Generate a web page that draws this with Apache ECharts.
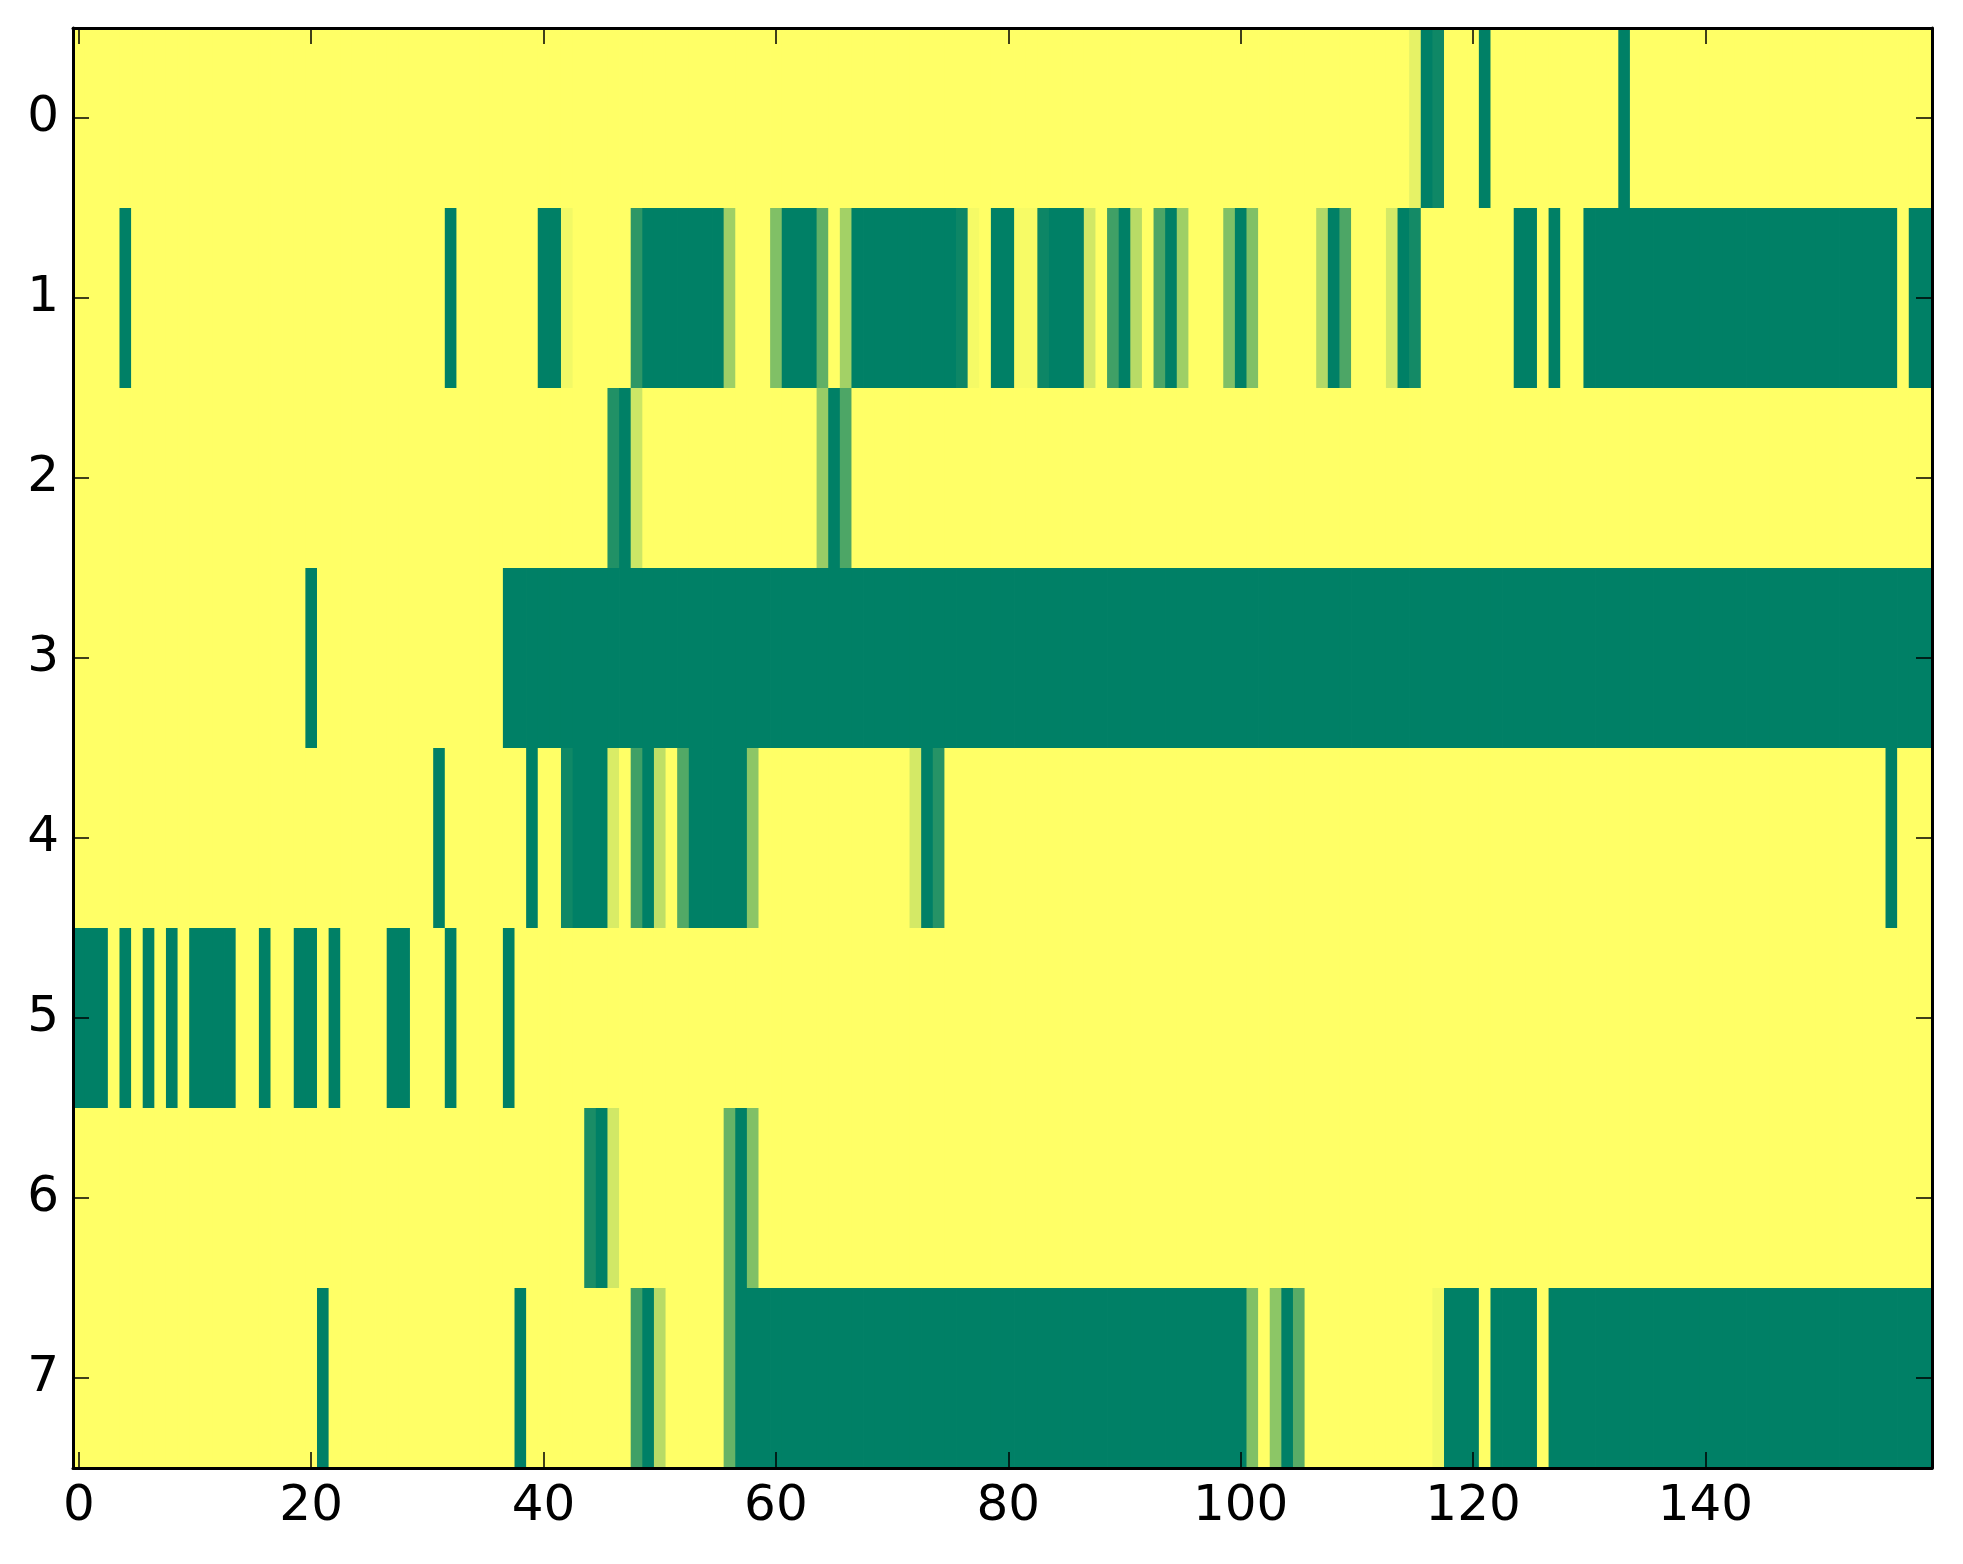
<!DOCTYPE html>
<html>
<head>
<meta charset="utf-8">
<script src="https://cdn.jsdelivr.net/npm/echarts@6/dist/echarts.min.js"></script>
<style>
html,body{margin:0;padding:0;background:#fff;}
#chart{width:1963px;height:1564px;}
</style>
</head>
<body>
<div id="chart"></div>
<script>
// column categories 0..159 and row categories 0..7
const columns = [];
for (let i = 0; i < 160; i++) columns.push(String(i));
const rowLabels = ['0','1','2','3','4','5','6','7'];
const xTickLabels = ['0','20','40','60','80','100','120','140'];

const row0 = [
1,1,1,1,1,1,1,1,1,1, 1,1,1,1,1,1,1,1,1,1, 1,1,1,1,1,1,1,1,1,1, 1,1,1,1,1,1,1,1,1,1,
1,1,1,1,1,1,1,1,1,1, 1,1,1,1,1,1,1,1,1,1, 1,1,1,1,1,1,1,1,1,1, 1,1,1,1,1,1,1,1,1,1,
1,1,1,1,1,1,1,1,1,1, 1,1,1,1,1,1,1,1,1,1, 1,1,1,1,1,1,1,1,1,1, 1,1,1,1,1,0.9,0,0.06,1,1,
1,0,1,1,1,1,1,1,1,1, 1,1,1,0,1,1,1,1,1,1, 1,1,1,1,1,1,1,1,1,1, 1,1,1,1,1,1,1,1,1,1
];
const row1 = [
1,1,1,1,0,1,1,1,1,1, 1,1,1,1,1,1,1,1,1,1, 1,1,1,1,1,1,1,1,1,1, 1,1,0,1,1,1,1,1,1,1,
0,0,0.95,1,1,1,1,1,0.18,0, 0,0,0,0,0,0,0.62,1,1,1, 0.5,0,0,0,0.38,1,0.64,0,0,0, 0,0,0,0,0,0,0.05,0.96,1,0,
0,0.97,0.97,0.05,0,0,0,0.82,1,0.25, 0,0.72,1,0.3,0,0.62,1,1,1,0.5, 0,0.5,1,1,1,1,1,0.7,0,0.3, 1,1,1,0.83,0,0.08,1,1,1,1,
1,1,1,1,0,0,1,0,1,1, 0,0,0,0,0,0,0,0,0,0, 0,0,0,0,0,0,0,0,0,0, 0,0,0,0,0,0,0,1,0,0
];
const row2 = [
1,1,1,1,1,1,1,1,1,1, 1,1,1,1,1,1,1,1,1,1, 1,1,1,1,1,1,1,1,1,1, 1,1,1,1,1,1,1,1,1,1,
1,1,1,1,1,1,0.13,0,0.8,1, 1,1,1,1,1,1,1,1,1,1, 1,1,1,1,0.6,0,0.3,1,1,1, 1,1,1,1,1,1,1,1,1,1,
1,1,1,1,1,1,1,1,1,1, 1,1,1,1,1,1,1,1,1,1, 1,1,1,1,1,1,1,1,1,1, 1,1,1,1,1,1,1,1,1,1,
1,1,1,1,1,1,1,1,1,1, 1,1,1,1,1,1,1,1,1,1, 1,1,1,1,1,1,1,1,1,1, 1,1,1,1,1,1,1,1,1,1
];
const row3 = [
1,1,1,1,1,1,1,1,1,1, 1,1,1,1,1,1,1,1,1,1, 0,1,1,1,1,1,1,1,1,1, 1,1,1,1,1,1,1,0,0,0,
0,0,0,0,0,0,0,0,0,0, 0,0,0,0,0,0,0,0,0,0, 0,0,0,0,0,0,0,0,0,0, 0,0,0,0,0,0,0,0,0,0,
0,0,0,0,0,0,0,0,0,0, 0,0,0,0,0,0,0,0,0,0, 0,0,0,0,0,0,0,0,0,0, 0,0,0,0,0,0,0,0,0,0,
0,0,0,0,0,0,0,0,0,0, 0,0,0,0,0,0,0,0,0,0, 0,0,0,0,0,0,0,0,0,0, 0,0,0,0,0,0,0,0,0,0
];
const row4 = [
1,1,1,1,1,1,1,1,1,1, 1,1,1,1,1,1,1,1,1,1, 1,1,1,1,1,1,1,1,1,1, 1,0,1,1,1,1,1,1,1,0,
1,1,0.06,0,0,0,0.85,1,0.25,0, 0.75,1,0.32,0,0,0,0,0,0.55,1, 1,1,1,1,1,1,1,1,1,1, 1,1,0.83,0,0.15,1,1,1,1,1,
1,1,1,1,1,1,1,1,1,1, 1,1,1,1,1,1,1,1,1,1, 1,1,1,1,1,1,1,1,1,1, 1,1,1,1,1,1,1,1,1,1,
1,1,1,1,1,1,1,1,1,1, 1,1,1,1,1,1,1,1,1,1, 1,1,1,1,1,1,1,1,1,1, 1,1,1,1,1,1,0,1,1,1
];
const row5 = [
0,0,0,1,0,1,0,1,0,1, 0,0,0,0,1,1,0,1,1,0, 0,1,0,1,1,1,1,0,0,1, 1,1,0,1,1,1,1,0,1,1,
1,1,1,1,1,1,1,1,1,1, 1,1,1,1,1,1,1,1,1,1, 1,1,1,1,1,1,1,1,1,1, 1,1,1,1,1,1,1,1,1,1,
1,1,1,1,1,1,1,1,1,1, 1,1,1,1,1,1,1,1,1,1, 1,1,1,1,1,1,1,1,1,1, 1,1,1,1,1,1,1,1,1,1,
1,1,1,1,1,1,1,1,1,1, 1,1,1,1,1,1,1,1,1,1, 1,1,1,1,1,1,1,1,1,1, 1,1,1,1,1,1,1,1,1,1
];
const row6 = [
1,1,1,1,1,1,1,1,1,1, 1,1,1,1,1,1,1,1,1,1, 1,1,1,1,1,1,1,1,1,1, 1,1,1,1,1,1,1,1,1,1,
1,1,1,1,0.1,0,0.82,1,1,1, 1,1,1,1,1,1,0.4,0,0.5,1, 1,1,1,1,1,1,1,1,1,1, 1,1,1,1,1,1,1,1,1,1,
1,1,1,1,1,1,1,1,1,1, 1,1,1,1,1,1,1,1,1,1, 1,1,1,1,1,1,1,1,1,1, 1,1,1,1,1,1,1,1,1,1,
1,1,1,1,1,1,1,1,1,1, 1,1,1,1,1,1,1,1,1,1, 1,1,1,1,1,1,1,1,1,1, 1,1,1,1,1,1,1,1,1,1
];
const row7 = [
1,1,1,1,1,1,1,1,1,1, 1,1,1,1,1,1,1,1,1,1, 1,0,1,1,1,1,1,1,1,1, 1,1,1,1,1,1,1,1,0,1,
1,1,1,1,1,1,1,1,0.25,0, 0.72,1,1,1,1,1,0.4,0,0,0, 0,0,0,0,0,0,0,0,0,0, 0,0,0,0,0,0,0,0,0,0,
0,0,0,0,0,0,0,0,0,0, 0,0,0,0,0,0,0,0,0,0, 0,0.5,1,0.55,0,0.35,1,1,1,1, 1,1,1,1,1,1,1,0.95,0,0,
0,1,0,0,0,0,1,0,0,0, 0,0,0,0,0,0,0,0,0,0, 0,0,0,0,0,0,0,0,0,0, 0,0,0,0,0,0,0,0,0,0
];

const rows = [row0, row1, row2, row3, row4, row5, row6, row7];
const cells = [];
rows.forEach((r, y) => r.forEach((v, x) => cells.push([x, y, v])));

const FONT = 'DejaVu Sans';
const tickEvery20 = (idx) => idx % 20 === 0;
const lineStyle = { color: '#000', width: 3 };

const chart = echarts.init(document.getElementById('chart'), null, { renderer: 'canvas' });
chart.setOption({
  backgroundColor: '#ffffff',
  animation: false,
  grid: { left: 73, right: 31, top: 28, bottom: 96, containLabel: false },
  visualMap: {
    show: false, min: 0, max: 1, dimension: 2,
    inRange: { color: ['#008066', '#ffff66'] }
  },
  xAxis: [
    {
      type: 'category', data: columns, position: 'bottom', z: 10,
      boundaryGap: true,
      axisLine: { show: true, onZero: false, lineStyle: lineStyle },
      axisTick: { show: true, inside: true, length: 16, alignWithLabel: true, interval: tickEvery20, lineStyle: { color: '#000', width: 1.5 } },
      axisLabel: {
        interval: tickEvery20, margin: 14,
        fontFamily: FONT, fontSize: 50, color: '#000',
        formatter: (val) => xTickLabels.indexOf(val) >= 0 ? val : ''
      },
      splitLine: { show: false }
    },
    {
      type: 'category', data: columns, position: 'top', z: 10,
      boundaryGap: true,
      axisLine: { show: true, onZero: false, lineStyle: lineStyle },
      axisTick: { show: true, inside: true, length: 16, alignWithLabel: true, interval: tickEvery20, lineStyle: { color: '#000', width: 1.5 } },
      axisLabel: { show: false },
      splitLine: { show: false }
    }
  ],
  yAxis: [
    {
      type: 'category', data: rowLabels, inverse: true, position: 'left', z: 10,
      boundaryGap: true,
      axisLine: { show: true, onZero: false, lineStyle: lineStyle },
      axisTick: { show: true, inside: true, length: 16, alignWithLabel: true, lineStyle: { color: '#000', width: 1.5 } },
      axisLabel: { margin: 14, fontFamily: FONT, fontSize: 50, color: '#000' },
      splitLine: { show: false }
    },
    {
      type: 'category', data: rowLabels, inverse: true, position: 'right', z: 10,
      boundaryGap: true,
      axisLine: { show: true, onZero: false, lineStyle: lineStyle },
      axisTick: { show: true, inside: true, length: 16, alignWithLabel: true, lineStyle: { color: '#000', width: 1.5 } },
      axisLabel: { show: false },
      splitLine: { show: false }
    }
  ],
  series: [{
    type: 'custom',
    xAxisIndex: 0, yAxisIndex: 0,
    clip: true,
    data: cells,
    encode: { x: 0, y: 1 },
    renderItem: function (params, api) {
      const p = api.coord([api.value(0), api.value(1)]);
      const s = api.size([1, 1]);
      return {
        type: 'rect',
        shape: { x: p[0] - s[0] / 2, y: p[1] - s[1] / 2, width: s[0] + 0.8, height: s[1] + 0.8 },
        style: { fill: api.visual('color') }
      };
    }
  }]
});
</script>
</body>
</html>
